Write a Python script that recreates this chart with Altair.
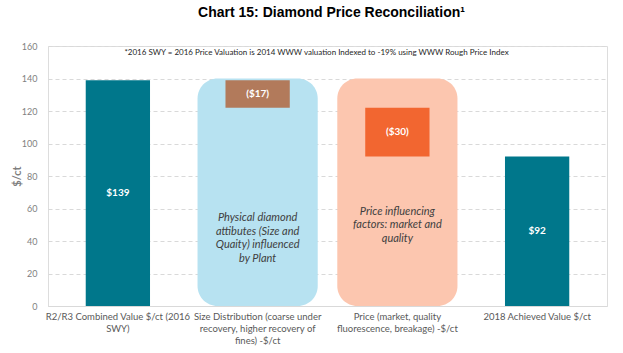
import altair as alt
import pandas as pd

categories = [
    "R2/R3 Combined Value $/ct (2016|SWY)",
    "Size Distribution (coarse under|recovery, higher recovery of|fines) -$/ct",
    "Price (market, quality|fluorescence, breakage) -$/ct",
    "2018 Achieved Value $/ct",
]
bar_start = [0, 122, 92, 0]
bar_end = [139, 139, 122, 92]
bar_labels = ["$139", "($17)", "($30)", "$92"]
bar_colors = ["#00778B", "#B27A5B", "#F26630", "#00778B"]
y_ticks = [0, 20, 40, 60, 80, 100, 120, 140, 160]

box_cats = [categories[1], categories[2]]
box_top = [140, 140]
box_colors = ["#B7E2F1", "#FCC6AF"]
box_text = [
    ["Physical diamond", "attibutes (Size and", "Quaity) influenced", "by Plant"],
    ["Price influencing", "factors: market and", "quality"],
]
box_text_y = [54, 58]

note = "*2016 SWY = 2016 Price Valuation is 2014 WWW valuation Indexed to -19% using WWW Rough Price Index"

bars = pd.DataFrame({
    "cat": categories, "y0": bar_start, "y1": bar_end,
    "label": bar_labels, "color": bar_colors,
})
bars["mid"] = (bars["y0"] + bars["y1"]) / 2

boxes = pd.DataFrame({"cat": box_cats, "top": box_top, "color": box_colors,
                      "ty": box_text_y})
boxes["bottom"] = 0
boxes["txt"] = box_text

FONT = "Lato"

x_enc = alt.X("cat:N", sort=categories,
              scale=alt.Scale(paddingInner=0, paddingOuter=0),
              axis=alt.Axis(title=None, labelAngle=0, labelExpr="split(datum.label, '|')",
                            labelFont=FONT, labelFontSize=9.5, labelColor="#595959",
                            labelPadding=5, labelLineHeight=12, ticks=False,
                            domain=True, domainColor="#D9D9D9", grid=False,
                            labelLimit=200))
y_scale = alt.Scale(domain=[0, 160], nice=False)
y_axis = alt.Axis(title="$/ct", values=y_ticks, labelOverlap=False,
                  labelFont=FONT, labelFontSize=9, labelColor="#7F7F7F",
                  titleFont=FONT, titleFontSize=11, titleColor="#7F7F7F",
                  titleFontWeight="bold", titleX=-31, titleY=130, titleBaseline="middle",
                  titleAlign="center", titleAngle=270, labelPadding=11,
                  ticks=False, domain=False, grid=True, gridColor="#D9D9D9",
                  gridDash=[4, 3])


def Y(field):
    return alt.Y(field, scale=y_scale, axis=y_axis, title="$/ct")


base_box = alt.Chart(boxes).mark_bar(width=alt.RelativeBandSize(0.86), cornerRadius=20).encode(
    x=x_enc,
    y=Y("top:Q"),
    y2="bottom:Q",
    color=alt.Color("color:N", scale=None),
)

box_txt = alt.Chart(boxes).mark_text(font=FONT, fontSize=11, fontStyle="italic",
                                      color="#404040", lineHeight=13.5).encode(
    x=alt.X("cat:N", sort=categories), y=Y("ty:Q"), text="txt")

bar_layer = alt.Chart(bars).mark_bar(width=alt.RelativeBandSize(0.46)).encode(
    x=alt.X("cat:N", sort=categories),
    y=Y("y1:Q"), y2="y0:Q",
    color=alt.Color("color:N", scale=None),
)
bar_txt = alt.Chart(bars).mark_text(font=FONT, fontSize=10, fontWeight="bold",
                                     color="white").encode(
    x=alt.X("cat:N", sort=categories), y=Y("mid:Q"), text="label")

note_df = pd.DataFrame({"cat": [categories[1]], "y": [156], "t": [note]})
note_txt = alt.Chart(note_df).mark_text(font=FONT, fontSize=8, color="#262626", dx=-11).encode(
    x=alt.X("cat:N", sort=categories, bandPosition=1),
    y=Y("y:Q"), text="t")

chart = alt.layer(base_box, box_txt, bar_layer, bar_txt, note_txt).properties(
    width=559, height=260,
    title=alt.TitleParams("Chart 15: Diamond Price Reconciliation\u00b9", font="Liberation Sans",
                          fontSize=14, fontWeight="bold", color="#000000", offset=22,
                          anchor="middle", dx=4),
    padding={"left": 48, "top": 46, "right": 16, "bottom": 47},
    autosize=alt.AutoSizeParams(type="none"),
).configure_view(stroke=None).configure(background="white")

chart.save("out.html", embed_options={"renderer": "svg", "actions": False})
